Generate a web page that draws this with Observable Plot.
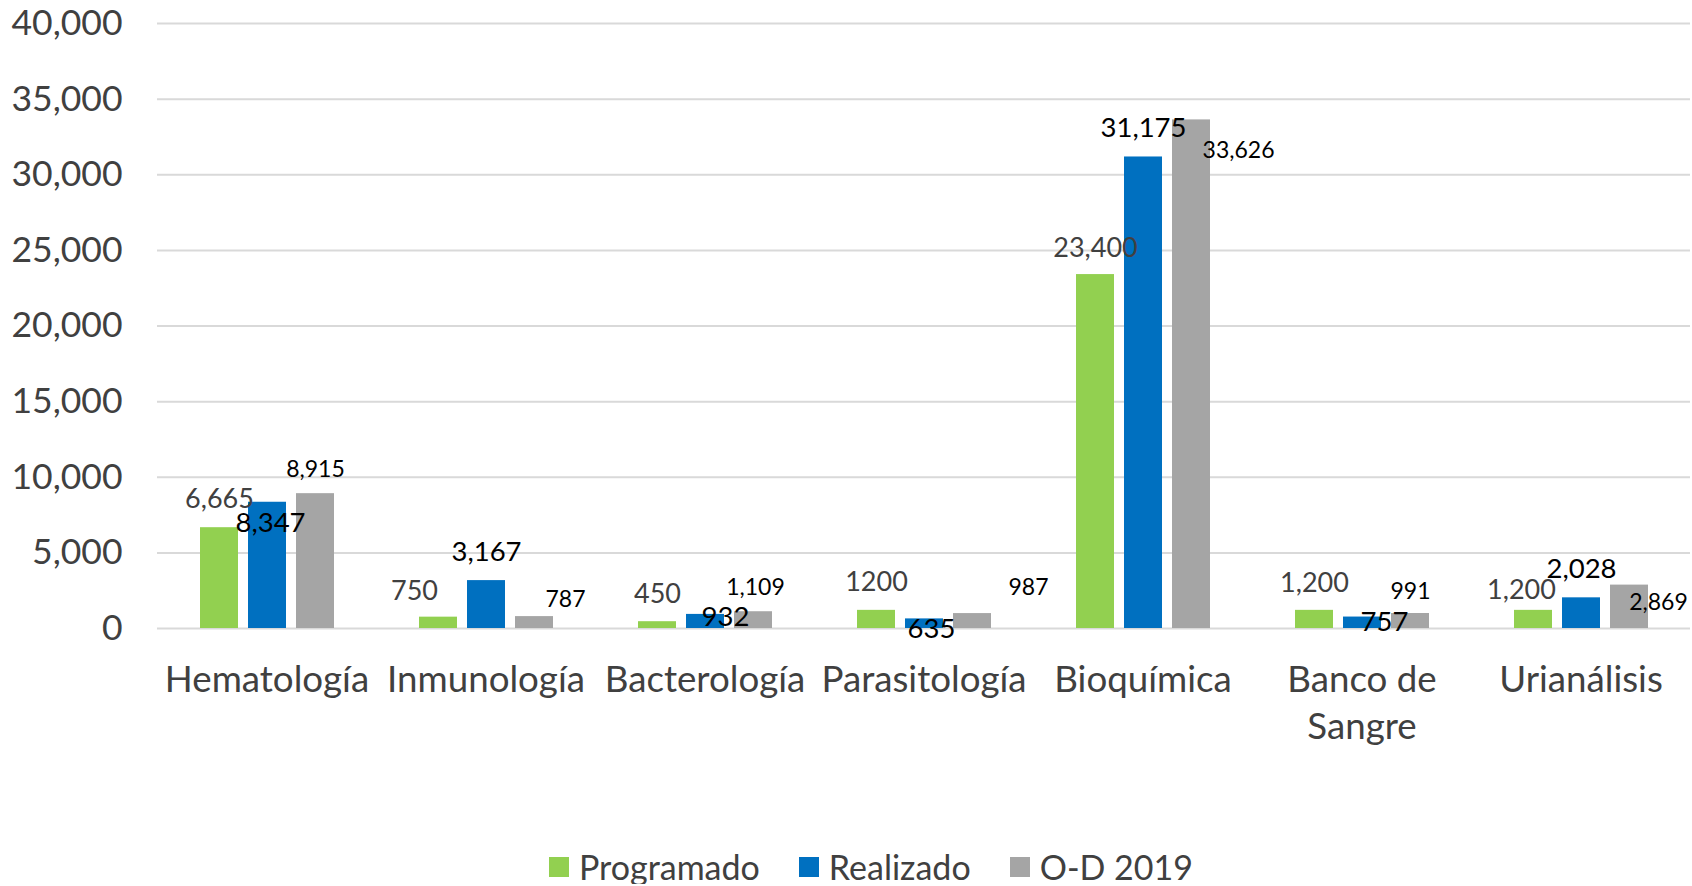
<!DOCTYPE html>
<html>
<head>
<meta charset="utf-8">
<script src="https://cdn.jsdelivr.net/npm/d3@7"></script>
<script src="https://cdn.jsdelivr.net/npm/@observablehq/plot@0.6"></script>
<style>
  html, body { margin: 0; padding: 0; background: #fff; overflow: hidden; }
  #chart { width: 1692px; }
  #chart svg { display: block; }
  .leg-swatches { margin: 0 !important; font-family: Lato, sans-serif !important; line-height: 34px; }
  .leg-swatches-wrap { padding-left: 549px; min-height: 0 !important; }
  .leg-swatch { margin-right: 39px !important; }
  .leg-swatch > svg { margin-right: 10px !important; }
</style>
</head>
<body>
<div id="chart"></div>
<script>
// ---- data ----
const categories = ["Hematología", "Inmunología", "Bacterología", "Parasitología", "Bioquímica", "Banco de Sangre", "Urianálisis"];
const series = ["Programado", "Realizado", "O-D 2019"];
const programado = [6665, 750, 450, 1200, 23400, 1200, 1200];
const realizado = [8347, 3167, 932, 635, 31175, 757, 2028];
const od2019 = [8915, 787, 1109, 987, 33626, 991, 2869];
const programadoLabels = ["6,665", "750", "450", "1200", "23,400", "1,200", "1,200"];
const realizadoLabels = ["8,347", "3,167", "932", "635", "31,175", "757", "2,028"];
const od2019Labels = ["8,915", "787", "1,109", "987", "33,626", "991", "2,869"];
const yTicks = [0, 5000, 10000, 15000, 20000, 25000, 30000, 35000, 40000];

// ---- styles ----
const colors = ["#92D050", "#0070C0", "#A5A5A5"];
const labelDx = {
  "Programado": [0, -24, 0, 0, 0, 0, -12],
  "Realizado": [3, 0, 20, 7, 0, 22, 0],
  "O-D 2019": [0, 31, 2, 56, 47, 0, 29]
};
const labelDy = {
  "Programado": [-20, -17, -19, -19, -18, -18, -11],
  "Realizado": [30, -20, 12, 19, -20, 14, -20],
  "O-D 2019": [-17, -10, -17, -19, 38, -15, 25]
};
const labelSize = {"Programado": 27, "Realizado": 27.5, "O-D 2019": 23};
const labelFill = {"Programado": "#404040", "Realizado": "#000000", "O-D 2019": "#000000"};

// ---- table ----
const valuesBySeries = {"Programado": programado, "Realizado": realizado, "O-D 2019": od2019};
const labelsBySeries = {"Programado": programadoLabels, "Realizado": realizadoLabels, "O-D 2019": od2019Labels};
const rows = [];
categories.forEach((c, i) => {
  series.forEach(s => {
    rows.push({category: c, series: s, value: valuesBySeries[s][i], label: labelsBySeries[s][i], idx: i});
  });
});

const labelMarks = rows.map(r => Plot.text([r], {
  fx: "category", x: "series", y: "value", text: "label",
  dx: labelDx[r.series][r.idx], dy: labelDy[r.series][r.idx],
  lineAnchor: "bottom", textAnchor: "middle",
  fontSize: labelSize[r.series], fill: labelFill[r.series]
}));

const plot = Plot.plot({
  width: 1692,
  height: 850,
  marginTop: 23,
  marginLeft: 156,
  marginRight: 2,
  marginBottom: 222,
  style: {fontFamily: "Lato, sans-serif", color: "#404040", background: "#ffffff", overflow: "visible"},
  fx: {domain: categories, padding: 0, label: null},
  x: {domain: series, paddingInner: 0.2165, paddingOuter: 0.867, axis: null},
  y: {domain: [0, 40000], label: null},
  color: {domain: series, range: colors},
  marks: [
    Plot.gridY(yTicks, {stroke: "#D9D9D9", strokeOpacity: 1, strokeWidth: 2}),
    Plot.axisY(yTicks, {tickSize: 0, tickPadding: 35, tickFormat: d3.format(","), fontSize: 35.5, fill: "#404040", label: null}),
    Plot.axisFx({
      anchor: "bottom", tickSize: 0, tickPadding: 30, fontSize: 36.7, lineHeight: 1.29,
      fill: "#404040", label: null,
      tickFormat: d => d === "Banco de Sangre" ? "Banco de\nSangre" : d
    }),
    Plot.barY(rows, {fx: "category", x: "series", y: "value", fill: "series"}),
    ...labelMarks
  ]
});

const legend = Plot.legend({
  color: {domain: series, range: colors},
  legend: "swatches",
  swatchSize: 20,
  className: "leg",
  style: {fontFamily: "Lato, sans-serif", fontSize: "34px", color: "#404040"}
});

const chart = document.getElementById("chart");
chart.appendChild(plot);
chart.appendChild(legend);
</script>
</body>
</html>
